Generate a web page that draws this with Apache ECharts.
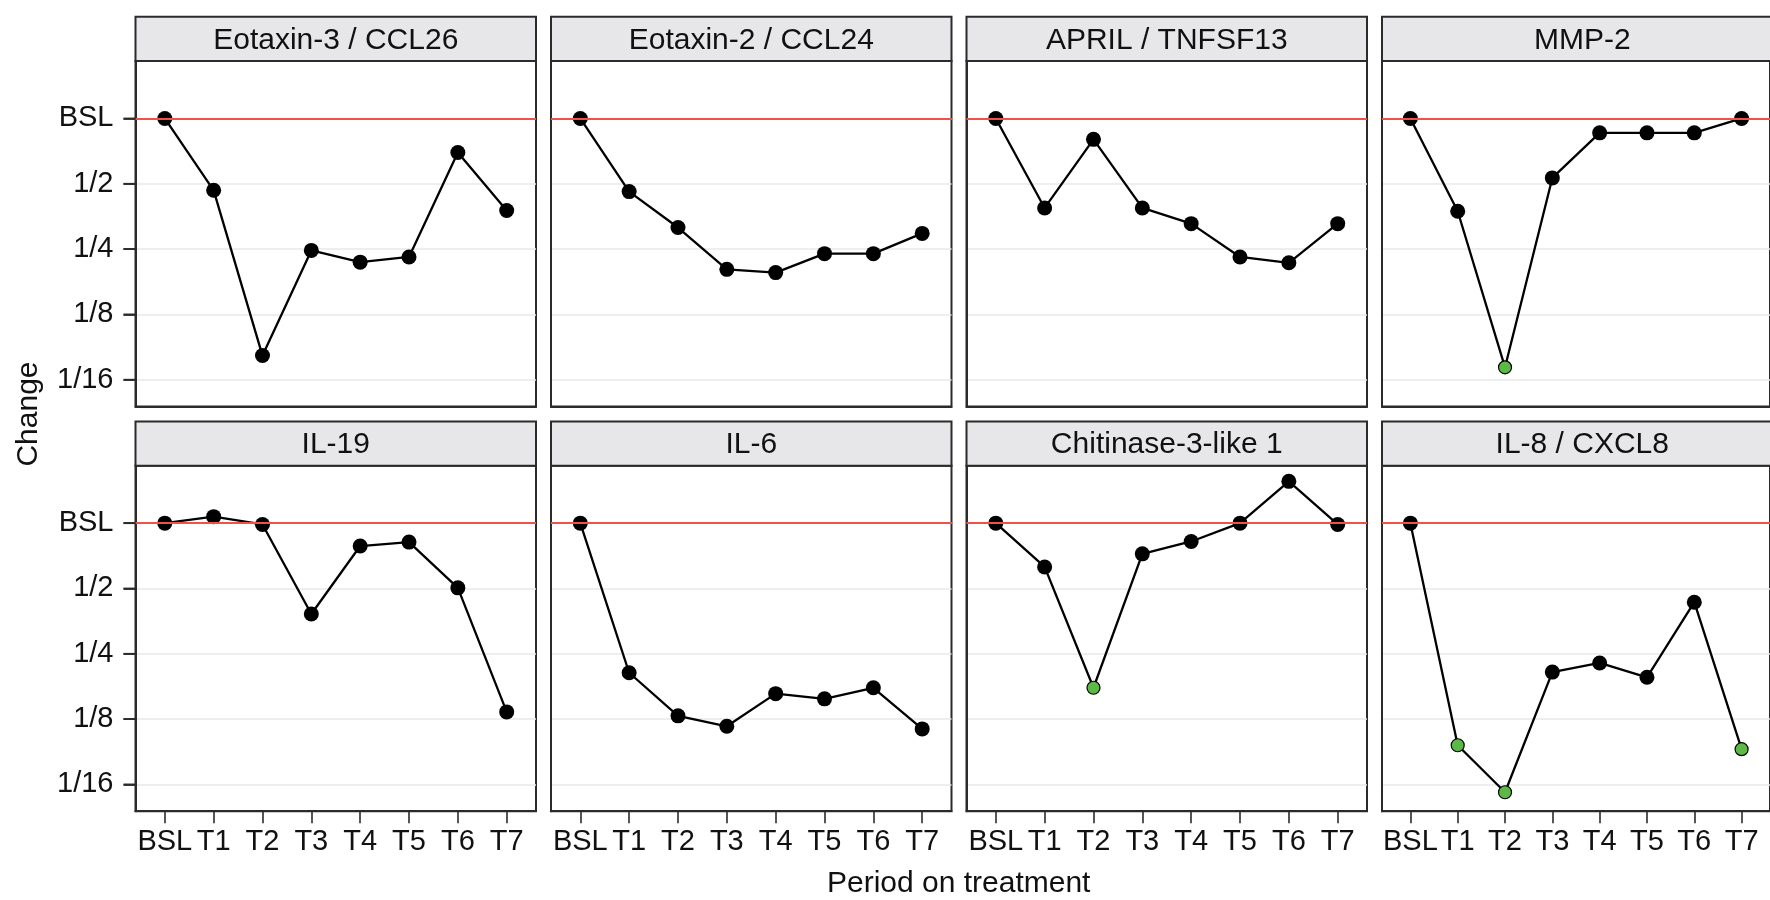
<!DOCTYPE html>
<html>
<head>
<meta charset="utf-8">
<script src="https://cdn.jsdelivr.net/npm/echarts@6/dist/echarts.min.js"></script>
<style>
  html, body { margin: 0; padding: 0; background: #ffffff; }
  #chart { width: 1770px; height: 900px; }
</style>
</head>
<body>
<div id="chart"></div>
<script>
// ---- Data (log2 change relative to baseline) ----
const periods = ['BSL', 'T1', 'T2', 'T3', 'T4', 'T5', 'T6', 'T7'];
const yTickValues = [-4, -3, -2, -1, 0];
const yTickLabels = ['1/16', '1/8', '1/4', '1/2', 'BSL'];
const panelTitles = ['Eotaxin-3 / CCL26', 'Eotaxin-2 / CCL24', 'APRIL / TNFSF13', 'MMP-2',
                     'IL-19', 'IL-6', 'Chitinase-3-like 1', 'IL-8 / CXCL8'];
const eotaxin3 = [0, -1.10, -3.63, -2.02, -2.20, -2.12, -0.52, -1.41];
const eotaxin2 = [0, -1.12, -1.67, -2.31, -2.36, -2.07, -2.07, -1.76];
const april    = [0, -1.37, -0.32, -1.37, -1.61, -2.12, -2.21, -1.61];
const mmp2     = [0, -1.42, -3.81, -0.91, -0.22, -0.22, -0.22, 0];
const il19     = [0, 0.10, -0.02, -1.39, -0.35, -0.29, -0.99, -2.89];
const il6      = [0, -2.29, -2.95, -3.11, -2.61, -2.69, -2.52, -3.15];
const chi3l1   = [0, -0.67, -2.52, -0.47, -0.28, 0, 0.64, -0.02];
const il8      = [0, -3.40, -4.12, -2.28, -2.14, -2.36, -1.21, -3.46];
// indices of highlighted (green) time points per panel
const sigEotaxin3 = [], sigEotaxin2 = [], sigApril = [], sigMmp2 = [2];
const sigIl19 = [], sigIl6 = [], sigChi3l1 = [2], sigIl8 = [1, 2, 7];

const panelValues = [eotaxin3, eotaxin2, april, mmp2, il19, il6, chi3l1, il8];
const panelSig = [sigEotaxin3, sigEotaxin2, sigApril, sigMmp2, sigIl19, sigIl6, sigChi3l1, sigIl8];

// ---- Layout ----
const FONT = "'Liberation Sans', Arial, Helvetica, sans-serif";
const panelLeft0 = 135.5, panelStep = 415.5, panelW = 400.5;
const plotTops = [61, 465.7], plotH = 345.5;
const stripH = 44.3;
const xMin = -0.6, xMax = 7.6;
const yMin = -4.41, yMax = 0.88;
const FRAME = '#2b2b2b';
const TICK_LEN = 12;

const grids = [], xAxes = [], yAxes = [], series = [], graphics = [];
for (let p = 0; p < 8; p++) {
  const row = Math.floor(p / 4), col = p % 4;
  const left = panelLeft0 + col * panelStep;
  const top = plotTops[row];
  const isLeft = col === 0, isBottom = row === 1;
  grids.push({ left: left, top: top, width: panelW, height: plotH, show: true,
               backgroundColor: '#ffffff', borderColor: FRAME, borderWidth: 2 });
  xAxes.push({
    gridIndex: p, type: 'value', min: xMin, max: xMax,
    axisLine: { show: true, onZero: false, lineStyle: { color: FRAME, width: 2 } },
    splitLine: { show: false },
    axisTick: { show: isBottom, customValues: [0,1,2,3,4,5,6,7], length: TICK_LEN, lineStyle: { color: FRAME, width: 1.6 } },
    axisLabel: { show: isBottom, customValues: [0,1,2,3,4,5,6,7], margin: 16,
                 formatter: v => periods[Math.round(v)] || '',
                 fontFamily: FONT, fontSize: 29, color: '#111' }
  });
  yAxes.push({
    gridIndex: p, type: 'value', min: yMin, max: yMax,
    axisLine: { show: true, onZero: false, lineStyle: { color: FRAME, width: 2 } },
    splitLine: { show: true, lineStyle: { color: '#e9e9e9', width: 1.5 } },
    axisTick: { show: isLeft, customValues: yTickValues, length: TICK_LEN, lineStyle: { color: FRAME, width: 1.8 } },
    axisLabel: { show: isLeft, customValues: yTickValues, margin: 22,
                 formatter: v => { const i = yTickValues.indexOf(Math.round(v)); return i >= 0 ? yTickLabels[i] : ''; },
                 fontFamily: FONT, fontSize: 29, color: '#111' }
  });
  // baseline reference line
  series.push({
    type: 'line', xAxisIndex: p, yAxisIndex: p, data: [], z: 1, silent: true,
    markLine: { silent: true, symbol: ['none', 'none'], label: { show: false },
                lineStyle: { color: '#f0524a', width: 2, type: 'solid' },
                emphasis: { disabled: true },
                data: [{ yAxis: 0 }] }
  });
  const sig = panelSig[p];
  series.push({
    type: 'line', xAxisIndex: p, yAxisIndex: p, z: 3, silent: true,
    symbol: 'circle', symbolSize: 15, showSymbol: true, animation: false,
    lineStyle: { color: '#000', width: 2.3 },
    itemStyle: { color: '#000' },
    data: panelValues[p].map((v, i) => sig.indexOf(i) >= 0
      ? { value: [i, v], symbolSize: 13, itemStyle: { color: '#5cb945', borderColor: '#000', borderWidth: 1.2 } }
      : { value: [i, v] })
  });
  // strip
  const stripTop = top - stripH;
  graphics.push({ type: 'rect', shape: { x: left, y: stripTop, width: panelW, height: stripH },
                  style: { fill: '#e7e7ea', stroke: FRAME, lineWidth: 2 }, z: 10 });
  graphics.push({ type: 'text', x: left + panelW / 2, y: stripTop + stripH / 2 + 1.5, z: 11,
                  style: { text: panelTitles[p], fontFamily: FONT, fontSize: 30, fill: '#111',
                           align: 'center', verticalAlign: 'middle' } });
  // y-axis tick marks for the left column (same linear mapping as the value axis)
  if (isLeft) {
    yTickValues.forEach(v => {
      const py = top + (yMax - v) / (yMax - yMin) * plotH;
      graphics.push({ type: 'line', zlevel: 1, z: 100, silent: true,
        shape: { x1: left - TICK_LEN, y1: py, x2: left, y2: py },
        style: { stroke: FRAME, lineWidth: 1.8 } });
    });
  }
}
graphics.push({ type: 'text', x: 958.7, y: 884, z: 11,
                style: { text: 'Period on treatment', fontFamily: FONT, fontSize: 30, fill: '#111',
                         align: 'center', verticalAlign: 'middle' } });
graphics.push({ type: 'text', x: 29, y: 414, rotation: Math.PI / 2, z: 11,
                style: { text: 'Change', fontFamily: FONT, fontSize: 30, fill: '#111',
                         align: 'center', verticalAlign: 'middle' } });

const chart = echarts.init(document.getElementById('chart'), null, { renderer: 'canvas' });
chart.setOption({
  animation: false,
  backgroundColor: '#ffffff',
  grid: grids, xAxis: xAxes, yAxis: yAxes, series: series, graphic: graphics
});
</script>
</body>
</html>
